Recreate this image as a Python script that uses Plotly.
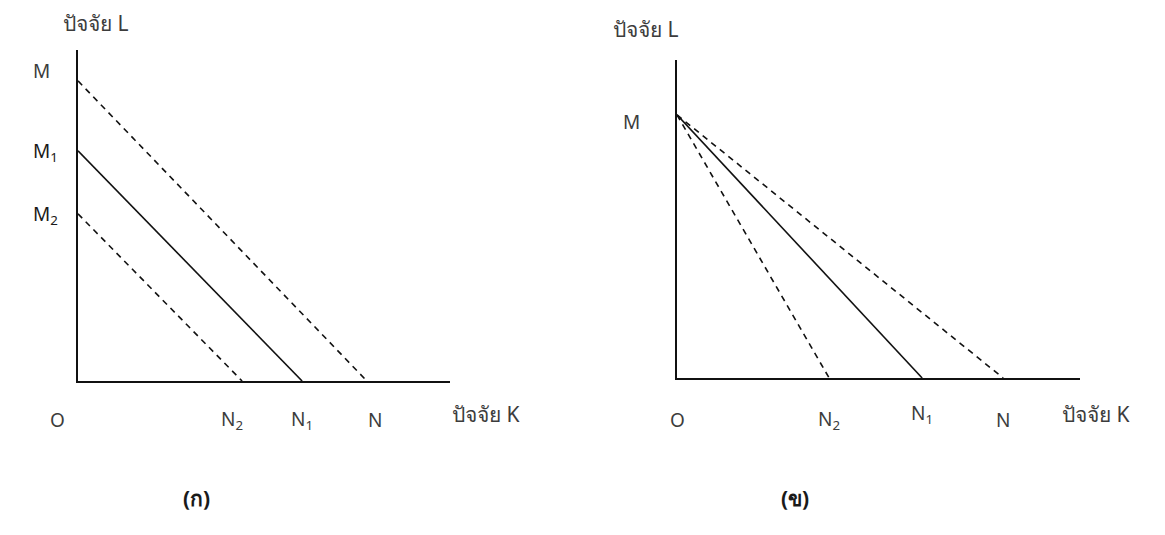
import plotly.graph_objects as go

# panel (ก): three parallel budget lines, intercepts on L and K axes
left_l_intercepts = [10.0, 7.67, 5.57]
left_k_intercepts = [9.63, 7.47, 5.47]
left_dash = ["dash", "solid", "dash"]
left_k_labels = ["N", "N<sub>1</sub>", "N<sub>2</sub>"]
left_l_labels = ["M", "M<sub>1</sub>", "M<sub>2</sub>"]

# panel (ข): one L intercept, three K intercepts (pivoting lines)
right_l_intercept = 8.77
right_k_intercepts = [5.07, 8.17, 10.87]
right_dash = ["dash", "solid", "dash"]
right_k_labels = ["N<sub>2</sub>", "N<sub>1</sub>", "N"]

axis_title_l = "ปัจจัย L"
axis_title_k = "ปัจจัย K"
panel_titles = ["(ก)", "(ข)"]

# the page body has an 8px margin, so the figure is placed 8px in from the corner
OFF = 8
W, H = 1157, 527
FONT = "Noto Sans, DejaVu Sans, sans-serif"
TXT = "#3c3c3c"
DASH = "6px,5px"


def px_x(p):
    return (p - OFF) / W


def px_y(p):
    return (H - (p - OFF)) / H


fig = go.Figure()

for l0, k0, d in zip(left_l_intercepts, left_k_intercepts, left_dash):
    fig.add_trace(go.Scatter(
        x=[0, k0], y=[l0, 0], mode="lines",
        line={"color": "#111", "width": 1.6, "dash": DASH if d == "dash" else "solid"},
        xaxis="x", yaxis="y", showlegend=False, hoverinfo="skip",
    ))

for k0, d in zip(right_k_intercepts, right_dash):
    fig.add_trace(go.Scatter(
        x=[0, k0], y=[right_l_intercept, 0], mode="lines",
        line={"color": "#111", "width": 1.6, "dash": DASH if d == "dash" else "solid"},
        xaxis="x2", yaxis="y2", showlegend=False, hoverinfo="skip",
    ))

ax_common = dict(showgrid=False, zeroline=False, showticklabels=False, ticks="",
                 showline=True, linecolor="#111", linewidth=2, fixedrange=True)

fig.update_layout(
    width=W, height=H,
    margin={"l": 0, "r": 0, "t": 0, "b": 0},
    paper_bgcolor="white", plot_bgcolor="white",
    font={"family": FONT, "size": 19, "color": TXT},
    # 30 px per unit in both panels
    xaxis=dict(ax_common, domain=[px_x(78), px_x(450)], range=[0, 12.4], anchor="y"),
    yaxis=dict(ax_common, domain=[px_y(381), px_y(50)], range=[0, 11.03], anchor="x"),
    xaxis2=dict(ax_common, domain=[px_x(677), px_x(1080)], range=[0, 13.43], anchor="y2"),
    yaxis2=dict(ax_common, domain=[px_y(378), px_y(60)], range=[0, 10.6], anchor="x2"),
)

ann = []

# left panel labels
for lab, l0 in zip(left_l_labels, left_l_intercepts):
    ann.append(dict(text=lab, xref="paper", yref="y", x=px_x(31), y=l0,
                    xanchor="left", yanchor="middle", showarrow=False,
                    yshift=10 if lab == "M" else -1,
                    font={"color": TXT if lab == "M" else "#1a1a1a"}))
shifts_left = [8, 0, -10]
for lab, k0, s in zip(left_k_labels, left_k_intercepts, shifts_left):
    ann.append(dict(text=lab, xref="x", yref="paper", x=k0, y=px_y(420),
                    xshift=s, xanchor="center", yanchor="middle", showarrow=False))
ann.append(dict(text="O", xref="paper", yref="paper", x=px_x(57), y=px_y(420),
                xanchor="center", yanchor="middle", showarrow=False))
ann.append(dict(text=axis_title_k, xref="paper", yref="paper", x=px_x(450), y=px_y(414),
                xanchor="left", yanchor="middle", showarrow=False, font={"size": 21}))
ann.append(dict(text=axis_title_l, xref="paper", yref="paper", x=px_x(61), y=px_y(23),
                xanchor="left", yanchor="middle", showarrow=False, font={"size": 21}))

# right panel labels
ann.append(dict(text="M", xref="paper", yref="y2", x=px_x(621), y=right_l_intercept,
                xanchor="left", yanchor="middle", showarrow=False, yshift=-7))
shifts_right = [0, 0, 0]
ys_right = [420, 414, 420]
for lab, k0, s, yy in zip(right_k_labels, right_k_intercepts, shifts_right, ys_right):
    ann.append(dict(text=lab, xref="x2", yref="paper", x=k0, y=px_y(yy),
                    xshift=s, xanchor="center", yanchor="middle", showarrow=False))
ann.append(dict(text="O", xref="paper", yref="paper", x=px_x(677), y=px_y(420),
                xanchor="center", yanchor="middle", showarrow=False))
ann.append(dict(text=axis_title_k, xref="paper", yref="paper", x=px_x(1060), y=px_y(414),
                xanchor="left", yanchor="middle", showarrow=False, font={"size": 21}))
ann.append(dict(text=axis_title_l, xref="paper", yref="paper", x=px_x(611), y=px_y(29),
                xanchor="left", yanchor="middle", showarrow=False, font={"size": 21}))

# panel captions
for t, cx in zip(panel_titles, [197, 795]):
    ann.append(dict(text="<b>" + t + "</b>", xref="paper", yref="paper", x=px_x(cx), y=px_y(498),
                    xanchor="center", yanchor="middle", showarrow=False,
                    font={"size": 21, "color": "#1a1a1a"}))

fig.update_layout(annotations=ann)

fig.write_html("out.html")
